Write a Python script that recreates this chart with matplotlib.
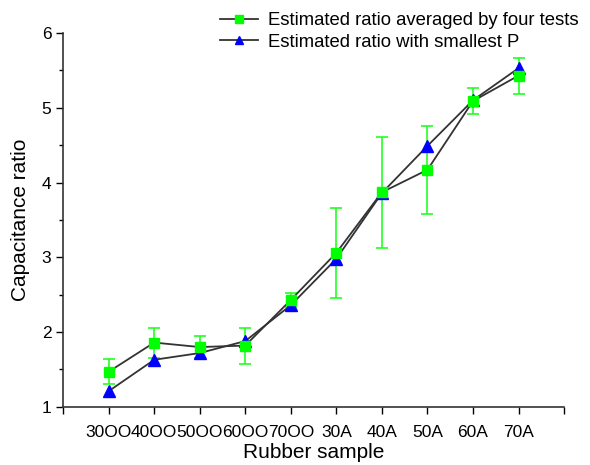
#capacitance ratio vs rubber sample, two estimates
import matplotlib.pyplot as plt
from matplotlib.ticker import MultipleLocator

plt.rcParams["font.family"] = ["Liberation Sans", "DejaVu Sans"]

#data
samples = ["30OO", "40OO", "50OO", "60OO", "70OO", "30A", "40A", "50A", "60A", "70A"]
avg_ratio = [1.47, 1.86, 1.80, 1.82, 2.43, 3.06, 3.87, 4.17, 5.09, 5.43]
avg_err = [0.17, 0.20, 0.15, 0.24, 0.09, 0.60, 0.74, 0.59, 0.17, 0.24]
smallest_p = [1.21, 1.63, 1.72, 1.88, 2.36, 2.98, 3.86, 4.49, 5.10, 5.53]

x = list(range(1, len(samples) + 1))

fig = plt.figure(figsize=(5.9, 4.65), dpi=100)
ax = fig.add_axes([0.107, 0.125, 0.849, 0.804])

#error bars first so markers sit on top
ax.errorbar(x, avg_ratio, yerr=avg_err, fmt="none", ecolor="#22ff22",
            elinewidth=1.2, capsize=4, capthick=1.2, zorder=2)
ax.plot(x, avg_ratio, color="#333333", lw=1.3, marker="s", markersize=7,
        markerfacecolor="#00ff00", markeredgecolor="#00ff00", zorder=4,
        label="Estimated ratio averaged by four tests")
ax.plot(x, smallest_p, color="#333333", lw=1.3, marker="^", markersize=8,
        markerfacecolor="#0000ff", markeredgecolor="#0000ff", zorder=3,
        label="Estimated ratio with smallest P")

ax.set_xlim(0, 11)
ax.set_ylim(1, 6)
ax.set_xticks([0] + x + [11])
ax.set_xticklabels([""] + samples + [""])
ax.yaxis.set_major_locator(MultipleLocator(1))
ax.yaxis.set_minor_locator(MultipleLocator(0.5))
ax.tick_params(axis="both", labelsize=12.5, width=1, length=5, direction="out")
ax.tick_params(axis="y", which="minor", length=3, width=1)
ax.tick_params(axis="x", pad=8)

for s in ["top", "right"]:
    ax.spines[s].set_visible(False)
for s in ["left", "bottom"]:
    ax.spines[s].set_linewidth(1.2)
    ax.spines[s].set_color("#333333")

ax.set_xlabel("Rubber sample", fontsize=15, labelpad=2)
ax.set_ylabel("Capacitance ratio", fontsize=15, labelpad=8)

fig.legend(loc="upper left", bbox_to_anchor=(0.352, 1.0), frameon=False,
           fontsize=13.3, numpoints=1, handlelength=2.1, handletextpad=0.5,
           labelspacing=0.25, borderpad=0.15, markerscale=0.8)

plt.savefig("out.png", dpi=100)
plt.close()
